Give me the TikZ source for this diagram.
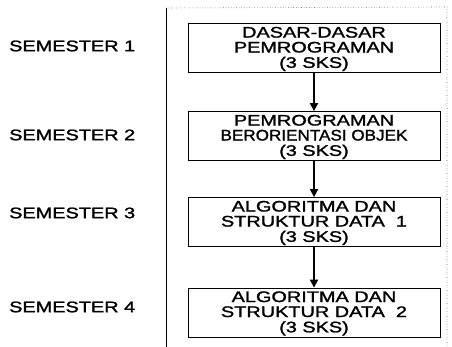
\documentclass[tikz,border=0pt]{standalone}
\usepackage{fontspec}
\setmainfont{Liberation Sans}[FakeBold=1.4]
\usetikzlibrary{arrows.meta}
\newcommand{\widetext}[1]{\scalebox{1.3}[1]{\begin{tabular}{@{}c@{}}#1\end{tabular}}}
\newcommand{\coursetext}[1]{\raisebox{-1.5pt}[\height][\depth]{\widetext{#1}}}
\tikzset{
  course/.style={draw=black, line width=0.8pt, minimum width=252pt, minimum height=49pt,
    align=center, inner sep=0pt, font=\fontsize{15.3}{14.2}\selectfont},
  semlabel/.style={anchor=west, inner sep=0pt, font=\fontsize{15.3}{14.2}\selectfont},
  flow/.style={line width=1.8pt, -{Triangle[width=8pt,length=8pt]}},
  panelborder/.style={draw=black!60, line width=0.6pt, dotted}
}
\begin{document}
\begin{tikzpicture}[x=1pt,y=1pt]
\useasboundingbox (0,0) rectangle (452,347);
% panel
\draw[panelborder] (166,339) -- (447,340) -- (447,0);
\draw[line width=1pt] (166,339) -- (166,0);
% courses
\node[course] (c1) at (314,299) {\coursetext{DASAR-DASAR\\PEMROGRAMAN\\(3 SKS)}};
\node[course] (c2) at (314,211) {\coursetext{PEMROGRAMAN\\\scalebox{0.86}[1]{BERORIENTASI OBJEK}\\(3 SKS)}};
\node[course] (c3) at (314,125) {\coursetext{ALGORITMA DAN\\STRUKTUR DATA\ \ 1\\(3 SKS)}};
\node[course] (c4) at (314,34.5) {\coursetext{ALGORITMA DAN\\STRUKTUR DATA\ \ 2\\(3 SKS)}};
% semester labels
\node[semlabel] (s1) at (9,299) {\widetext{SEMESTER 1}};
\node[semlabel] (s2) at (9,210) {\widetext{SEMESTER 2}};
\node[semlabel] (s3) at (9,132) {\widetext{SEMESTER 3}};
\node[semlabel] (s4) at (9,38) {\widetext{SEMESTER 4}};
% arrows
\draw[flow] (c1) -- (c2);
\draw[flow] (c2) -- (c3);
\draw[flow] (c3) -- (c4);
\end{tikzpicture}
\end{document}
